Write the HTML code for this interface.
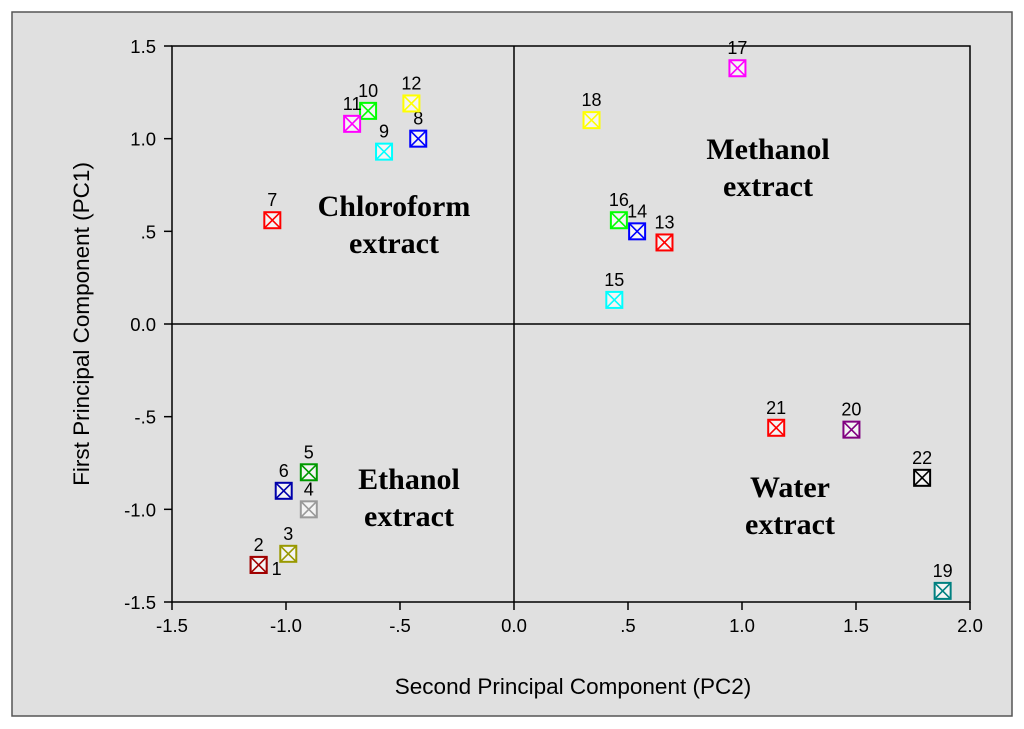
<!DOCTYPE html>
<html><head><meta charset="utf-8"><style>
body{margin:0;background:#fff;}
svg{display:block;font-family:"Liberation Sans",sans-serif;}
</style></head><body>
<svg width="1024" height="729">
<rect x="12" y="12" width="1000" height="704" fill="#e0e0e0" stroke="#555" stroke-width="1.5"/>
<g id="plot"></g>
</svg>
<script>
const ids=["1","2","3","4","5","6","7","8","9","10","11","12","13","14","15","16","17","18","19","20","21","22"];
const pc2=[-1.12,-1.12,-0.99,-0.90,-0.90,-1.01,-1.06,-0.42,-0.57,-0.64,-0.71,-0.45,0.66,0.54,0.44,0.46,0.98,0.34,1.88,1.48,1.15,1.79];
const pc1=[-1.30,-1.30,-1.24,-1.00,-0.80,-0.90,0.56,1.00,0.93,1.15,1.08,1.19,0.44,0.50,0.13,0.56,1.38,1.10,-1.44,-0.57,-0.56,-0.83];
const colors=["#a00000","#a00000","#999900","#999999","#009900","#0000aa","#ff0000","#0000ff","#00ffff","#00ff00","#ff00ff","#ffff00","#ff0000","#0000ff","#00ffff","#00ff00","#ff00ff","#ffff00","#008080","#800080","#ff0000","#000000"];
const xTicks=[-1.5,-1.0,-0.5,0.0,0.5,1.0,1.5,2.0];
const xTickLabels=["-1.5","-1.0","-.5","0.0",".5","1.0","1.5","2.0"];
const yTicks=[1.5,1.0,0.5,0.0,-0.5,-1.0,-1.5];
const yTickLabels=["1.5","1.0",".5","0.0","-.5","-1.0","-1.5"];
const L=172,R=970,T=46,B=602;
const X=v=>L+(v+1.5)*(R-L)/3.5;
const Y=v=>B-(v+1.5)*(B-T)/3;
const NS="http://www.w3.org/2000/svg";
const g=document.getElementById('plot');
function mk(t,a,p){const e=document.createElementNS(NS,t);for(const k in a)e.setAttribute(k,a[k]);(p||g).appendChild(e);return e;}
let e=mk('rect',{x:L,y:T,width:R-L,height:B-T,fill:'none',stroke:'#000','stroke-width':1.5});


e=mk('line',{x1:X(0),x2:X(0),y1:T,y2:B,stroke:'#000','stroke-width':1.5});


e=mk('line',{x1:L,x2:R,y1:Y(0),y2:Y(0),stroke:'#000','stroke-width':1.5});


xTicks.forEach((v,i)=>{
 mk('line',{x1:X(v),x2:X(v),y1:B,y2:B+8,stroke:'#000','stroke-width':1.5});
 const t=mk('text',{x:X(v),y:B+30,'text-anchor':'middle','font-size':18.5});t.textContent=xTickLabels[i];
 
 
});
yTicks.forEach((v,i)=>{
 mk('line',{x1:L-8,x2:L,y1:Y(v),y2:Y(v),stroke:'#000','stroke-width':1.5});
 const t=mk('text',{x:L-16,y:Y(v)+7,'text-anchor':'end','font-size':18.5});t.textContent=yTickLabels[i];
 
 
});
e=mk('text',{x:(L+R)/2+2,y:694,'text-anchor':'middle','font-size':22.5});e.textContent='Second Principal Component (PC2)';


e=mk('text',{x:0,y:0,'text-anchor':'middle','font-size':22.5,transform:'translate(89,324) rotate(-90)'});e.textContent='First Principal Component (PC1)';


const groups=[["Chloroform","extract",394,216],["Methanol","extract",768,159],["Ethanol","extract",409,489],["Water","extract",790,497]];
groups.forEach(a=>{
 const t=mk('text',{x:a[2],y:a[3],'text-anchor':'middle','font-size':30,'font-weight':'bold','font-family':'Liberation Serif, serif'});
 
 
 const s1=mk('tspan',{x:a[2]},t);s1.textContent=a[0];
 const s2=mk('tspan',{x:a[2],dy:37},t);s2.textContent=a[1];
});
ids.forEach((id,i)=>{
 const cx=X(pc2[i]),cy=Y(pc1[i]),h=8,c=colors[i];
 const m=mk('g',{});
 
 
 mk('rect',{x:cx-h,y:cy-h,width:2*h,height:2*h,fill:'#f4f4f4',stroke:c,'stroke-width':2},m);
 mk('path',{d:`M${cx-h} ${cy-h}L${cx+h} ${cy+h}M${cx+h} ${cy-h}L${cx-h} ${cy+h}`,stroke:c,'stroke-width':1.6},m);
 let lx=cx,ly=cy-14;
 if(id==="1"){lx=cx+18;ly=cy+10;}
 const t=mk('text',{x:lx,y:ly,'text-anchor':'middle','font-size':18});t.textContent=id;
 
 
});
</script>
</body></html>
